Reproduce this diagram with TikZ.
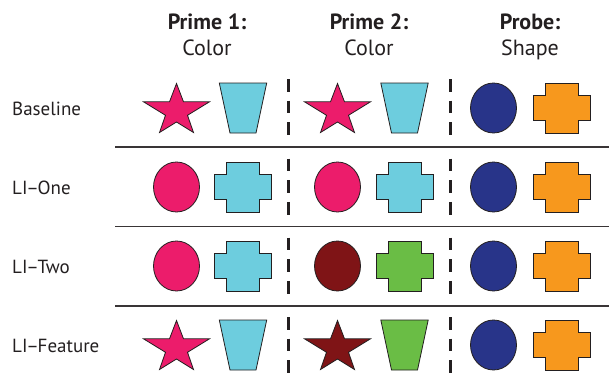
\documentclass[tikz,border=0pt]{standalone}
\usepackage{fontspec}
\setmainfont{PT Sans}
\definecolor{ink}{HTML}{231F20}
\definecolor{pink}{HTML}{EC1C6B}
\definecolor{sky}{HTML}{6DCDDE}
\definecolor{navy}{HTML}{283489}
\definecolor{orng}{HTML}{F7981D}
\definecolor{maroon}{HTML}{7F1416}
\definecolor{grn}{HTML}{6ABD45}
\newcommand{\tdash}{\kern-1.2pt–\kern-1.2pt}
\tikzset{
  shp/.style={draw=ink, line width=0.8pt, line join=miter},
  sep/.style={draw=ink, line width=3pt, dash pattern=on 12.7pt off 9pt},
  rule/.style={draw=ink!90, line width=1.6pt},
  lab/.style={anchor=base west, inner sep=0pt, text=ink, font=\fontsize{19}{21}\selectfont},
  headb/.style={anchor=base, inner sep=0pt, text=ink, font=\fontsize{22}{24}\selectfont\bfseries},
  headr/.style={anchor=base, inner sep=0pt, text=ink, font=\fontsize{22}{24}\selectfont},
  pics/starshape/.style={code={\draw[shp, fill=#1] (0,-24.5) -- (7,-6.2) -- (33,-6.2) -- (11,7.3) -- (17,24.5) -- (0,14) -- (-17,24.5) -- (-11,7.3) -- (-33,-6.2) -- (-7,-6.2) -- cycle;}},
  pics/trapshape/.style={code={\draw[shp, fill=#1] (-23.7,-25) -- (23.7,-25) -- (13,25) -- (-13,25) -- cycle;}},
  pics/crossshape/.style={code={\draw[shp, fill=#1] (-16.5,-25) -- (16.5,-25) -- (16.5,-12.5) -- (28.5,-12.5) -- (28.5,12.5) -- (16.5,12.5) -- (16.5,25) -- (-16.5,25) -- (-16.5,12.5) -- (-28.5,12.5) -- (-28.5,-12.5) -- (-16.5,-12.5) -- cycle;}},
  pics/roundshape/.style={code={\draw[shp, fill=#1] (0,0) ellipse [x radius=23pt, y radius=25pt];}},
}
\begin{document}
\begin{tikzpicture}[x=1pt, y=-1pt]
\useasboundingbox (0,0) rectangle (609,383);
% headers
\node[headb] (h1) at (207,29) {Prime 1:};
\node[headr] (h1b) at (207,55) {Color};
\node[headb] (h2) at (369,29) {Prime 2:};
\node[headr] (h2b) at (369,55) {Color};
\node[headb] (h3) at (530,29) {Probe:};
\node[headr] (h3b) at (530,55) {Shape};
% row labels
\node[lab] (l1) at (12,115) {Baseline};
\node[lab] (l2) at (12,194) {LI\tdash One};
\node[lab] (l3) at (12,273) {LI\tdash Two};
\node[lab] (l4) at (12,352) {LI\tdash Feature};
% rules
\draw[rule] (115,147) -- (609,147);
\draw[rule] (115,226.5) -- (609,226.5);
\draw[rule] (115,306) -- (609,306);
% separators
\foreach \c in {107,186.5,265.5,345}{
  \draw[sep] (288,\c-28) -- (288,\c+28);
  \draw[sep] (450,\c-28) -- (450,\c+28);
}
% row 1: Baseline
\pic at (176.5,108) {starshape=pink};
\pic at (243,108) {trapshape=sky};
\pic at (337.5,108) {starshape=pink};
\pic at (404.5,108) {trapshape=sky};
\pic at (493.5,108) {roundshape=navy};
\pic at (562,108) {crossshape=orng};
% row 2: LI-One
\pic at (176.5,187) {roundshape=pink};
\pic at (243,187) {crossshape=sky};
\pic at (337.5,187) {roundshape=pink};
\pic at (404.5,187) {crossshape=sky};
\pic at (493.5,187) {roundshape=navy};
\pic at (562,187) {crossshape=orng};
% row 3: LI-Two
\pic at (176.5,266) {roundshape=pink};
\pic at (243,266) {crossshape=sky};
\pic at (337.5,266) {roundshape=maroon};
\pic at (404.5,266) {crossshape=grn};
\pic at (493.5,266) {roundshape=navy};
\pic at (562,266) {crossshape=orng};
% row 4: LI-Feature
\pic at (176.5,345) {starshape=pink};
\pic at (243,345) {trapshape=sky};
\pic at (337.5,345) {starshape=maroon};
\pic at (404.5,345) {trapshape=grn};
\pic at (493.5,345) {roundshape=navy};
\pic at (562,345) {crossshape=orng};
\end{tikzpicture}
\end{document}
